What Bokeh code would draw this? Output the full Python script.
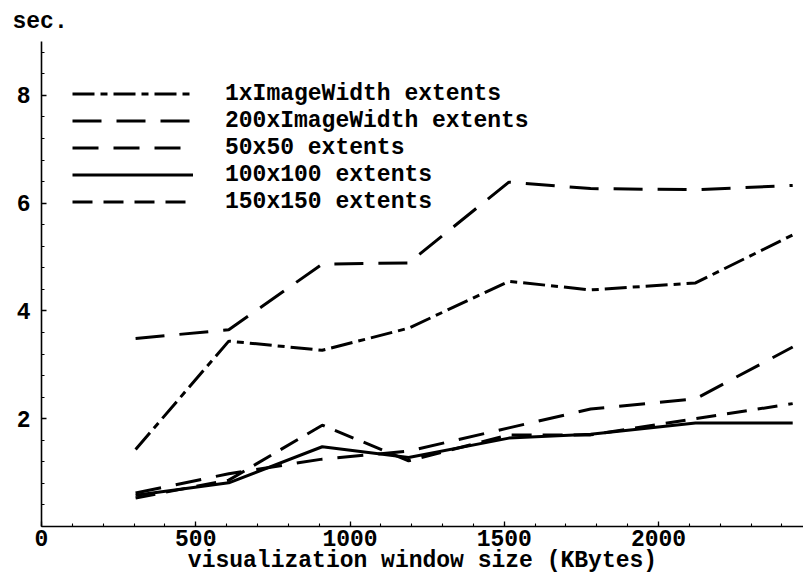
from bokeh.plotting import figure
from bokeh.models import Range1d, FixedTicker, Legend, LegendItem
from bokeh.embed import file_html
from bokeh.resources import INLINE

# ---- data ----
window_kb = [305, 607, 910, 1190, 1515, 1780, 2120, 2435]
sec_1x_imagewidth = [1.43, 3.44, 3.27, 3.68, 4.55, 4.39, 4.52, 5.41]
sec_200x_imagewidth = [3.49, 3.65, 4.87, 4.89, 6.39, 6.27, 6.25, 6.33]
sec_50x50 = [0.62, 0.98, 1.25, 1.40, 1.83, 2.18, 2.37, 3.33]
sec_100x100 = [0.58, 0.81, 1.48, 1.28, 1.64, 1.71, 1.92, 1.92]
sec_150x150 = [0.53, 0.86, 1.88, 1.22, 1.70, 1.70, 2.00, 2.28]
series_names = ["1xImageWidth extents", "200xImageWidth extents",
                "50x50 extents", "100x100 extents", "150x150 extents"]
x_major_ticks = [0, 500, 1000, 1500, 2000]
y_major_ticks = [2, 4, 6, 8]
x_title = "visualization window size (KBytes)"
y_title = "sec."

FONT = "Liberation Mono"
FS = "23px"

p = figure(width=803, height=577, output_backend="svg", toolbar_location=None,
           x_range=Range1d(0, 2470), y_range=Range1d(0, 9.0),
           min_border_left=41, min_border_right=0, min_border_top=38,
           min_border_bottom=51)
p.outline_line_color = None
p.xgrid.visible = False
p.ygrid.visible = False
p.background_fill_color = "white"
p.border_fill_color = "white"

# "sec." title at top-left
p.title.text = y_title
p.title.align = "left"
p.title.offset = -29
p.title.standoff = 13
p.title.text_font = FONT
p.title.text_font_style = "bold"
p.title.text_font_size = FS
p.title.text_color = "black"

series = [sec_1x_imagewidth, sec_200x_imagewidth, sec_50x50, sec_100x100, sec_150x150]
dashes = ["22 6 7 6", "29 15", "26 15", "solid", "20 11"]

items = []
for name, ys, dash in zip(series_names, series, dashes):
    r = p.line(window_kb, ys, line_color="black", line_width=3, line_dash=dash)
    items.append(LegendItem(label=name, renderers=[r]))

legend = Legend(items=items, location=(31, 311), orientation="vertical",
                glyph_width=121, glyph_height=27, label_height=27,
                label_standoff=32, spacing=0, padding=0, margin=0,
                border_line_color=None, background_fill_alpha=0,
                label_text_font=FONT, label_text_font_style="bold",
                label_text_font_size=FS, label_text_color="black")
p.add_layout(legend)

# axes
p.xaxis.ticker = FixedTicker(ticks=x_major_ticks, minor_ticks=list(range(0, 2500, 100)))
p.yaxis.ticker = FixedTicker(ticks=y_major_ticks, minor_ticks=[round(0.4 * i, 1) for i in range(1, 23)])
for ax in (p.xaxis[0], p.yaxis[0]):
    ax.axis_line_width = 1.6
    ax.axis_line_color = "black"
    ax.major_tick_in = 5
    ax.major_tick_out = 0
    ax.minor_tick_in = 3
    ax.minor_tick_out = 0
    ax.major_tick_line_width = 1.3
    ax.minor_tick_line_width = 1.1
    ax.major_tick_line_color = "black"
    ax.minor_tick_line_color = "black"
    ax.major_label_text_font = FONT
    ax.major_label_text_font_style = "bold"
    ax.major_label_text_font_size = FS
    ax.major_label_text_color = "black"
p.xaxis.major_label_standoff = 3
p.yaxis.major_label_standoff = 11

p.xaxis.axis_label = x_title
p.xaxis.axis_label_standoff = -1
p.xaxis.axis_label_text_font = FONT
p.xaxis.axis_label_text_font_style = "bold"
p.xaxis.axis_label_text_font_size = FS
p.xaxis.axis_label_text_color = "black"

open("out.html", "w").write(file_html(p, INLINE))
